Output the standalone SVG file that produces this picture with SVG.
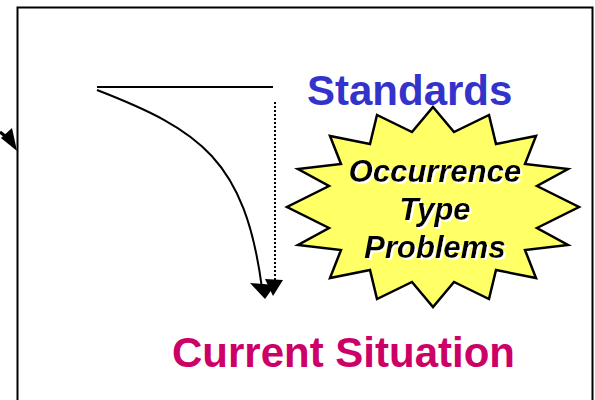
<svg xmlns="http://www.w3.org/2000/svg" width="595" height="400" viewBox="0 0 595 400">
<style>
.ln{fill:none;stroke:#000;stroke-width:2}
.ah{fill:#000;stroke:none}
.lbl{font-family:"Liberation Sans",Arial,sans-serif;font-weight:bold;font-size:42px}
.st{font-family:"Liberation Sans",Arial,sans-serif;font-weight:bold;font-style:italic;font-size:31px;text-anchor:middle;fill:#000}
</style>
<defs>
<filter id="shadow" x="-10%" y="-10%" width="130%" height="130%">
<feFlood flood-color="#fff" result="w"/>
<feComposite in="w" in2="SourceAlpha" operator="in" result="s"/>
<feOffset in="s" dx="2" dy="2" result="so"/>
<feMerge><feMergeNode in="so"/><feMergeNode in="SourceGraphic"/></feMerge>
</filter>
</defs>
<rect x="0" y="0" width="595" height="400" fill="#fff"/>
<rect id="frame" x="17.5" y="7.5" width="575" height="400" fill="none" stroke="#000" stroke-width="2"/>
<g id="connectors">
<line class="ln" x1="97" y1="87" x2="273" y2="87"/>
<path class="ln" d="M97,90 C200,130 245,160 262,288"/>
<polygon class="ah" points="265,299 250,283 275,285"/>
<line x1="275" y1="102" x2="275" y2="284" stroke="#000" stroke-width="2" stroke-dasharray="2,2"/>
<polygon class="ah" points="273,296 265,279 283,280"/>
<line x1="0" y1="132" x2="10" y2="140" stroke="#000" stroke-width="3"/>
<polygon class="ah" points="17,151 1,138 12,128"/>
</g>
<g id="standards">
<text class="lbl" x="307" y="105" fill="#3333CC">Standards</text>
</g>
<g id="problems">
<polygon fill="#FFFF66" stroke="#000" stroke-width="2.5" stroke-linejoin="miter" points="433,107 454,132 489,115 496,144 536,136 525,164 568,169 537,186 579,207 537,228 568,245 525,250 536,278 496,270 489,299 454,282 433,307 412,282 377,299 370,270 330,278 341,250 298,245 329,228 287,207 329,186 298,169 341,164 330,136 370,144 377,115 412,132"/>
<g filter="url(#shadow)">
<text class="st" x="435" y="182">Occurrence</text>
<text class="st" x="435" y="220">Type</text>
<text class="st" x="435" y="258">Problems</text>
</g>
</g>
<g id="current">
<text class="lbl" x="172" y="367" fill="#CC0066">Current Situation</text>
</g>
</svg>
